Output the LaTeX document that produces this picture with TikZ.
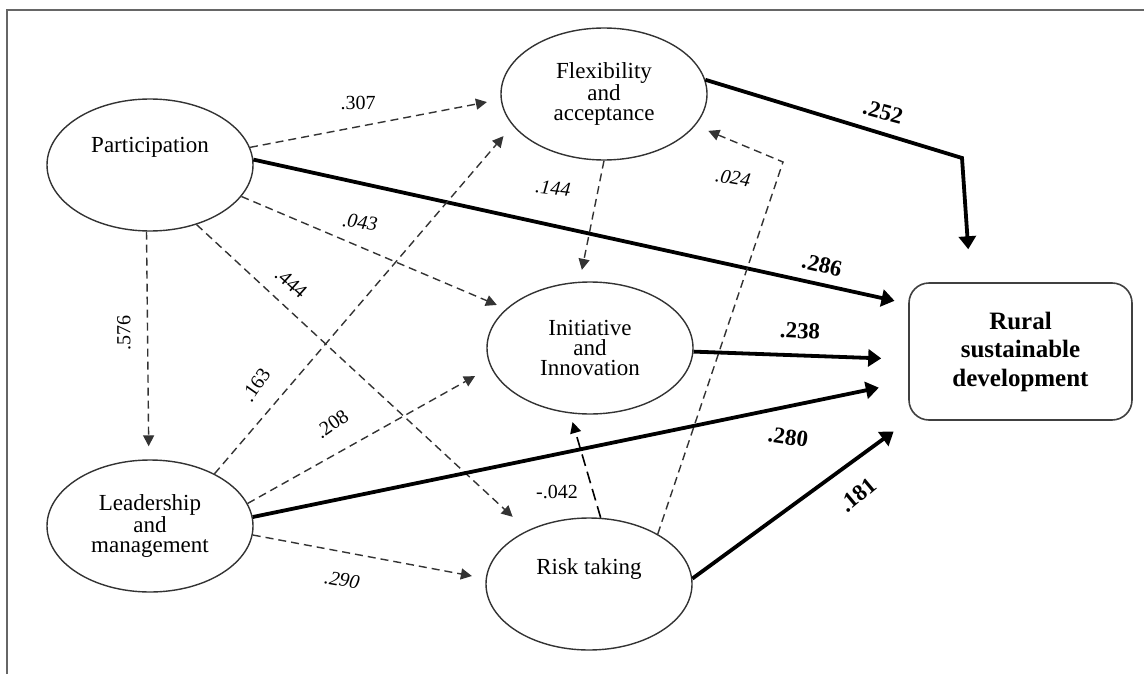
\documentclass[tikz,border=0pt]{standalone}
\usepackage{fontspec}
\setmainfont{Liberation Serif}
\usetikzlibrary{arrows.meta, shapes.geometric}

\begin{document}
\begin{tikzpicture}[x=0.5pt, y=-0.5pt,
    latent/.style={draw=black!80, line width=0.7pt, ellipse, minimum width=103pt, minimum height=66pt,
      inner sep=0pt, align=center, font=\fontsize{11.5}{10}\selectfont},
    toptext/.style={text height=8pt, text depth=#1},
    outcome/.style={draw=black!75, line width=0.8pt, rounded corners=10pt, minimum width=111.5pt,
      minimum height=68.5pt, align=center, font=\fontsize{12.5}{14.25}\selectfont\bfseries},
    dasharr/.style={-{Triangle[length=5.5pt, width=5.5pt]}, black!80, line width=0.7pt, dash pattern=on 4pt off 2.5pt},
    longdash/.style={dasharr, black, line width=0.8pt, dash pattern=on 6pt off 3pt},
    boldarr/.style={-{Triangle[length=6.5pt, width=8.5pt]}, line width=1.9pt},
    coef/.style={inner sep=0pt, font=\fontsize{10}{12}\selectfont},
    coefit/.style={coef, font=\fontsize{10}{12}\selectfont\itshape},
    coefbf/.style={coef, font=\fontsize{11.5}{13}\selectfont\bfseries}]
  \useasboundingbox (0,0) rectangle (1144,674);
  \draw[black!60, line width=1pt] (7,674) -- (7,10) -- (1144,10);

  % constructs
  \node[latent, toptext=21pt] (part) at (150,165) {Participation};
  \node[latent] (flex) at (604,94) {Flexibility\\and\\acceptance};
  \node[latent] (init) at (590,348) {Initiative\\and\\Innovation};
  \node[latent, toptext=18pt] (risk) at (589,584) {Risk taking};
  \node[latent] (lead) at (150,526) {Leadership\\and\\management};
  \node[outcome] (rsd) at (1020.5,351.5) {Rural\\sustainable\\development};
  \coordinate (bendA) at (962,158);
  \coordinate (bendB) at (783,162);

  % paths
  \draw[dasharr, shorten >=7pt] (part.10) -- (flex.183);
  \draw[boldarr, shorten >=7pt] (part.3) -- (rsd.157);
  \draw[dasharr, shorten >=5pt] (part.-19) -- (init.155);
  \draw[dasharr, shorten >=6.5pt] (part.-93) -- (lead.91);
  \draw[dasharr, shorten >=10pt] (part.-52) -- (risk.139);
  \draw[dasharr, shorten >=7pt] (lead.39) -- (flex.199);
  \draw[dasharr, shorten >=9pt] (lead.13) -- (init.191);
  \draw[boldarr, shorten >=15pt] (lead.5) -- (rsd.195);
  \draw[dasharr, shorten >=7pt] (lead.-5) -- (risk.177);
  \draw[dasharr, shorten >=6pt] (flex.-90) -- (init.99);
  \draw[boldarr, shorten >=16.5pt] (flex.8) -- (bendA) -- ([xshift=-25pt]rsd.north);
  \draw[dasharr, shorten >=7pt] (risk.36) -- (bendB) -- (flex.-19);
  \draw[longdash, shorten >=4.5pt] (risk.80) -- (init.-107);
  \draw[boldarr, shorten >=13.5pt] (init.-2) -- (rsd.184);
  \draw[boldarr, shorten >=9pt] (risk.3) -- (rsd.south west);

  % coefficients
  \node[coef] (c307) at (358,103) {.307};
  \node[coefit, rotate=-8] (c043) at (360,222) {.043};
  \node[coef, rotate=90] (c576) at (124,333) {.576};
  \node[coef, rotate=-42] (c444) at (291,283) {.444};
  \node[coef, rotate=55] (c163) at (256,385) {.163};
  \node[coef, rotate=35] (c208) at (332,424) {.208};
  \node[coefit, rotate=-10] (c290) at (342,580) {.290};
  \node[coefit, rotate=-6] (c144) at (553,188) {.144};
  \node[coefit, rotate=-10] (c024) at (733,178) {.024};
  \node[coef] (c042) at (557,492) {-.042};
  \node[coefbf, rotate=-15] (c252) at (883,112) {.252};
  \node[coefbf, rotate=-13] (c286) at (822,265) {.286};
  \node[coefbf, rotate=-3] (c238) at (800,331) {.238};
  \node[coefbf, rotate=-8] (c280) at (788,437) {.280};
  \node[coefbf, rotate=40] (c181) at (858,495) {.181};
\end{tikzpicture}
\end{document}
